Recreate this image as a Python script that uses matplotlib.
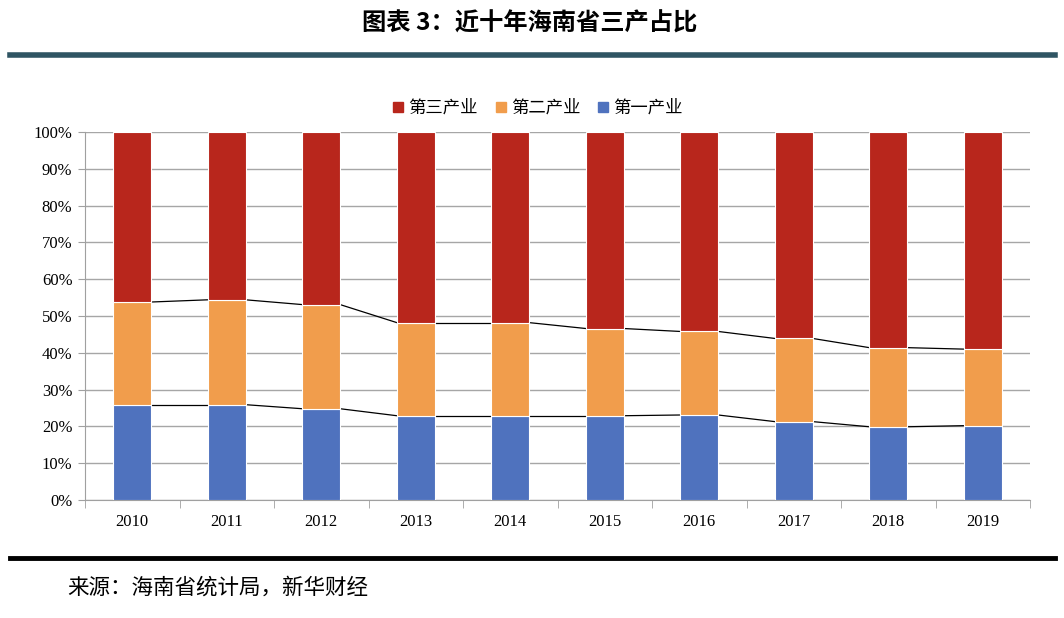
import matplotlib
matplotlib.use('Agg')
import matplotlib.pyplot as plt
import numpy as np
from matplotlib.lines import Line2D

plt.rcParams['font.family'] = ['Noto Sans CJK SC', 'DejaVu Sans']

# 数据（按图读取，单位 %）
years = ['2010', '2011', '2012', '2013', '2014', '2015', '2016', '2017', '2018', '2019']
primary = [25.9, 25.9, 24.8, 22.9, 22.9, 22.9, 23.1, 21.3, 19.9, 20.2]
secondary = [27.9, 28.5, 28.3, 25.3, 25.3, 23.7, 22.7, 22.6, 21.5, 20.8]
tertiary = [100 - p - s for p, s in zip(primary, secondary)]

c_blue = '#4F72BE'
c_orange = '#F19D4C'
c_red = '#B8261C'

fig = plt.figure(figsize=(10.64, 6.18), dpi=100)
ax = fig.add_axes([85 / 1064, 1 - 500 / 618, 945 / 1064, 368 / 618])

x = np.arange(len(years))
w = 0.40
p = np.array(primary)
s = np.array(secondary)
t = np.array(tertiary)
ax.bar(x, p, w, color=c_blue, edgecolor='white', linewidth=0.8, zorder=3)
ax.bar(x, s, w, bottom=p, color=c_orange, edgecolor='white', linewidth=0.8, zorder=3)
ax.bar(x, t, w, bottom=p + s, color=c_red, edgecolor='white', linewidth=0.8, zorder=3)

# 系列线
for tops in (p, p + s):
    for i in range(len(x) - 1):
        ax.plot([x[i] + w / 2, x[i + 1] - w / 2], [tops[i], tops[i + 1]],
                color='black', linewidth=0.9, zorder=2)

ax.set_xlim(-0.5, len(years) - 0.5)
ax.set_ylim(0, 100)
ax.set_yticks(np.arange(0, 101, 10))
ax.set_yticklabels([f'{v}%' for v in range(0, 101, 10)],
                   family=['Liberation Serif'], fontsize=12)
ax.set_xticks(x)
ax.set_xticklabels(years, family=['Liberation Serif'], fontsize=12)
ax.set_xticks(np.arange(-0.5, len(years), 1), minor=True)
ax.tick_params(axis='x', which='major', length=0, pad=10)
ax.tick_params(axis='x', which='minor', length=6, color='#A0A0A0')
ax.tick_params(axis='y', length=5, color='#A0A0A0', pad=4)
ax.yaxis.grid(True, color='#A6A6A6', linewidth=1)
for side in ('top', 'right'):
    ax.spines[side].set_visible(False)
for side in ('left', 'bottom'):
    ax.spines[side].set_color('#A0A0A0')

handles = [Line2D([], [], marker='s', linestyle='', color=c, markersize=7)
           for c in (c_red, c_orange, c_blue)]
fig.legend(handles, ['第三产业', '第二产业', '第一产业'], loc='center',
           bbox_to_anchor=(538 / 1064, 1 - 108 / 618), ncol=3, frameon=False,
           fontsize=12.5, handlelength=0.6, handletextpad=0.3, columnspacing=1.0)

fig.text(530 / 1064, 1 - 24 / 618, '图表 3：近十年海南省三产占比', ha='center', va='center',
         fontsize=17.5, fontweight='bold')
fig.add_artist(Line2D([10 / 1064, 1055 / 1064], [1 - 55 / 618] * 2,
                      color='#2F5563', linewidth=4))
fig.add_artist(Line2D([10 / 1064, 1055 / 1064], [1 - 558 / 618] * 2,
                      color='black', linewidth=3.5))
fig.text(67 / 1064, 1 - 588 / 618, '来源：海南省统计局，新华财经', ha='left', va='center',
         fontsize=15.5)

fig.savefig('out.png', dpi=100)
